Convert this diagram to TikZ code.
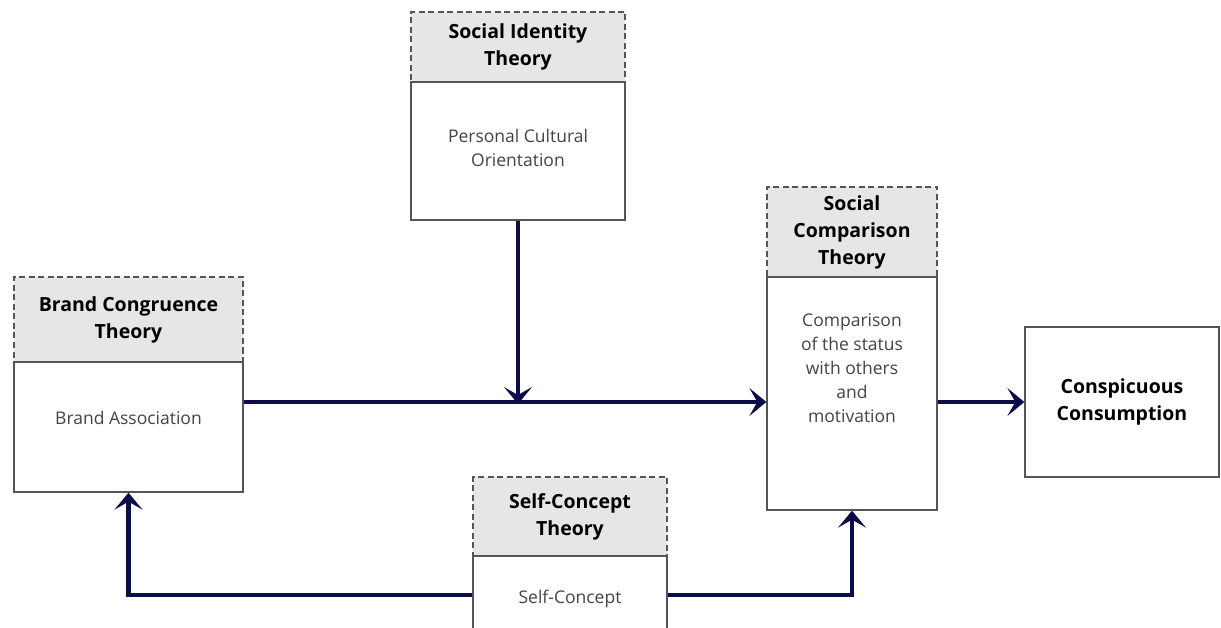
\documentclass[tikz,border=0pt]{standalone}
\usepackage{fontspec}
\setmainfont{Open Sans}
\usetikzlibrary{arrows.meta}
\definecolor{navy}{HTML}{0C0C4A}
\definecolor{hdrfill}{HTML}{E6E6E6}
\definecolor{edge}{HTML}{555555}
\definecolor{bodytxt}{HTML}{444444}
\tikzset{
  hdr/.style={draw=edge, dash pattern=on 6pt off 3.5pt, line width=1.3pt, fill=hdrfill, inner sep=0pt, align=center, font=\fontsize{19.5}{27}\selectfont\bfseries, text=black},
  bodybox/.style={draw=edge, line width=1.3pt, fill=white, inner sep=0pt},
  btxt/.style={align=center, font=\fontsize{17.5}{24}\selectfont, text=bodytxt, inner sep=0pt},
  arr/.style={draw=navy, line width=4.5pt, -{Stealth[length=17pt,width=28pt,inset=8pt]}},
}
\begin{document}
\begin{tikzpicture}[x=1pt,y=-1pt]
\useasboundingbox (0,0) rectangle (1221,628);
\clip (0,0) rectangle (1221,628);
% Social Identity Theory
\node[hdr, minimum width=214pt, minimum height=70pt] (siH) at (518,47) {Social Identity\\Theory};
\node[bodybox, minimum width=214pt, minimum height=138pt] (siB) at (518,151) {};
\node[btxt] (siT) at (518,148) {Personal Cultural\\Orientation};
% Brand Congruence Theory
\node[hdr, minimum width=229pt, minimum height=85pt] (brH) at (128.5,319.5) {Brand Congruence\\Theory};
\node[bodybox, minimum width=229pt, minimum height=130pt] (brB) at (128.5,427) {};
\node[btxt] (brT) at (128.5,418) {Brand Association};
% Self-Concept Theory
\node[hdr, minimum width=194pt, minimum height=79pt] (scH) at (570,516.5) {Self-Concept\\Theory};
\node[bodybox, minimum width=194pt, minimum height=78pt] (scB) at (570,595) {};
\node[btxt] (scT) at (570,599) {Self-Concept};
% Social Comparison Theory
\node[hdr, minimum width=170pt, minimum height=90pt] (cmH) at (852,232) {Social\\Comparison\\Theory};
\node[bodybox, minimum width=170pt, minimum height=233pt] (cmB) at (852,393.5) {};
\node[btxt] (cmT) at (852,368) {Comparison\\of the status\\with others\\and\\motivation};
% Conspicuous Consumption
\node[bodybox, minimum width=194pt, minimum height=150pt, align=center, font=\fontsize{19.5}{27}\selectfont\bfseries] (cc) at (1122,402) {Conspicuous\\Consumption};
% connectors
\coordinate (mainY) at (0,402);
\draw[arr] (brB.east |- mainY) -- (cmB.west |- mainY);
\draw[arr] (siB.south) -- ([yshift=-2pt]siB.south |- mainY);
\draw[arr] (cmB.east |- mainY) -- (cc.west);
\draw[arr] (scB.west) -| (brB.south);
\draw[arr] (scB.east) -| (cmB.south);
\end{tikzpicture}
\end{document}
